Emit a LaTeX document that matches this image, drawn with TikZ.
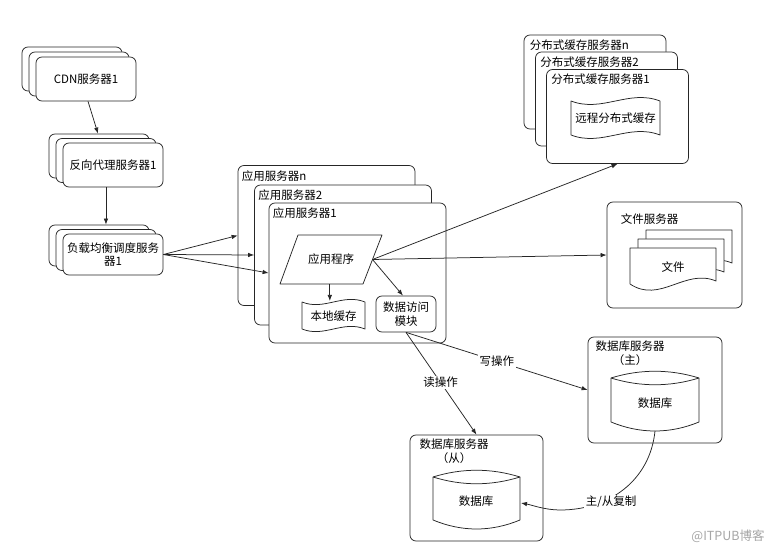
\documentclass[tikz,border=0pt]{standalone}
\usepackage{fontspec}
\newfontfamily\cjk{Noto Sans CJK SC}
\usetikzlibrary{arrows.meta,calc}
\begin{document}
\begin{tikzpicture}[x=1pt,y=-1pt,
  lc/.style={draw=black!85, line width=0.75pt},
  every node/.style={font=\cjk\fontsize{11.5}{13.5}\selectfont},
  srv/.style={lc, fill=white, rounded corners=6pt, inner sep=1pt, align=center},
  smallstk/.style={srv, minimum width=100pt, minimum height=44pt},
  lbstk/.style={srv, minimum width=100pt, minimum height=41pt},
  appstk/.style={srv, minimum width=177pt, minimum height=140pt},
  dcstk/.style={srv, minimum width=142pt, minimum height=94pt},
  bigbox/.style={srv, minimum width=134pt, minimum height=106pt},
  ttl/.style={anchor=north west, inner sep=0pt},
  arr/.style={lc, -{Latex[length=6pt,width=4.5pt]}},
  lbl/.style={fill=white, inner sep=1.5pt},
  shp/.style={lc, fill=white, line join=round},
  txt/.style={inner sep=0pt}
]
\fill[white] (0,0) rectangle (779,553);
\useasboundingbox (0,0) rectangle (779,553);

% CDN stack
\node[smallstk] (cdn3) at (72,69) {};
\node[smallstk] (cdn2) at (79,74) {};
\node[smallstk] (cdn1) at (86,79) {CDN服务器1};

% reverse proxy stack
\node[smallstk] (prx3) at (99,156) {};
\node[smallstk] (prx2) at (106,160.5) {};
\node[smallstk] (prx1) at (113,165) {反向代理服务器1};

% load balancer stack
\node[lbstk] (lb3) at (99,245.5) {};
\node[lbstk] (lb2) at (106,250) {};
\node[lbstk] (lb1) at (113,254.5) {负载均衡调度服务\\器1};

\coordinate (c1) at ($(cdn1.south west)!0.52!(cdn1.south east)$);
\draw[arr] (c1) -- ($(prx3.north west)!0.49!(prx3.north east)$);
\coordinate (p1) at ($(prx1.south west)!0.43!(prx1.south east)$);
\draw[arr] (p1) -- (p1 |- lb3.north);

% application server stack
\node[appstk] (asn) at (326.5,235.5) {};
\node[ttl] (tasn) at ($(asn.north west)+(4,5)$) {应用服务器n};
\node[appstk] (as2) at (343,255) {};
\node[ttl] (tas2) at ($(as2.north west)+(4,5)$) {应用服务器2};
\node[appstk] (as1) at (357.5,273) {};
\node[ttl] (tas1) at ($(as1.north west)+(4,5)$) {应用服务器1};

\draw[arr] (lb1.east) -- (asn.west);
\draw[arr] (lb1.east) -- (as2.west);
\draw[arr] (lb1.east) -- (as1.west);

% application program (parallelogram)
\coordinate (pTL) at (298,235);
\coordinate (pTR) at (382,235);
\coordinate (pBR) at (363,284);
\coordinate (pBL) at (280,284);
\draw[shp] (pTL) -- (pTR) -- (pBR) -- (pBL) -- cycle;
\node[txt] (prog) at (331,259.5) {应用程序};
\coordinate (progR) at ($(pTR)!0.5!(pBR)$);
\coordinate (progB) at ($(pBL)!0.6!(pBR)$);

% local cache (tape)
\draw[shp] (302,302) .. controls (324,311) and (343,293) .. (365,302)
  -- (365,329) .. controls (343,320) and (324,338) .. (302,329) -- cycle;
\node[txt] (lcache) at (333.5,316) {本地缓存};
\draw[arr] (progB) -- (progB |- 0,301);

% data access module
\node[srv, minimum width=60pt, minimum height=36pt, inner sep=0pt] (mod) at (406,314) {数据访问\\模块};
\draw[arr] (progR) -- ($(mod.north west)!0.45!(mod.north east)$);

% distributed cache stack
\node[dcstk] (dcn) at (595,82) {};
\node[ttl] (tdcn) at ($(dcn.north west)+(6,5)$) {分布式缓存服务器n};
\node[dcstk] (dc2) at (606.5,99) {};
\node[ttl] (tdc2) at ($(dc2.north west)+(5,5)$) {分布式缓存服务器2};
\node[dcstk] (dc1) at (617.5,116.5) {};
\node[ttl] (tdc1) at ($(dc1.north west)+(5,5)$) {分布式缓存服务器1};
\draw[shp] (571,101) .. controls (602,113) and (629,89) .. (660,101)
  -- (660,135) .. controls (629,123) and (602,147) .. (571,135) -- cycle;
\node[txt] (rcache) at (615.5,118) {远程分布式缓存};

% file server
\node[srv, minimum width=135pt, minimum height=106pt] (fs) at (674.5,255) {};
\node[ttl] (tfs) at ($(fs.north west)+(14,12)$) {文件服务器};
\begin{scope}[shift={(16,-18)}]
\draw[shp] (630,248) -- (716,248) -- (716,281) .. controls (685,268) and (660,304) .. (630,284) -- cycle;
\end{scope}
\begin{scope}[shift={(8,-9)}]
\draw[shp] (630,248) -- (716,248) -- (716,281) .. controls (685,268) and (660,304) .. (630,284) -- cycle;
\end{scope}
\draw[shp] (630,248) -- (716,248) -- (716,281) .. controls (685,268) and (660,304) .. (630,284) -- cycle;
\node[txt] (file) at (673,267) {文件};

\draw[arr] (progR) -- (dc1.south);
\draw[arr] (progR) -- (fs.west);

% database master
\node[bigbox] (mbox) at (655,390) {};
\node[txt, align=center] (tmb) at (630,353) {数据库服务器\\（主）};
\draw[shp] (611,378) .. controls (640,369) and (670,369) .. (699,378)
  -- (699,422) .. controls (670,434) and (640,434) .. (611,422) -- cycle;
\draw[lc] (611,378) .. controls (640,387) and (670,387) .. (699,378);
\node[txt] (mdb) at (655,403) {数据库};
\coordinate (mdbB) at (655,431);

% database slave
\node[bigbox, minimum width=133pt] (sbox) at (476.5,488) {};
\node[txt, align=center] (tsb) at (454,451) {数据库服务器\\（从）};
\draw[shp] (433,477) .. controls (462,468) and (491,468) .. (520,477)
  -- (520,520) .. controls (491,532) and (462,532) .. (433,520) -- cycle;
\draw[lc] (433,477) .. controls (462,486) and (491,486) .. (520,477);
\node[txt] (sdb) at (476,501) {数据库};
\coordinate (sdbR) at (521,503);

% read / write
\draw[arr] (mod.south) -- node[lbl, pos=0.49] {读操作} (sbox.north);
\draw[arr] (mod.south) -- node[lbl, pos=0.5] {写操作} (mbox.west);

% replication
\draw[arr] (mdbB) .. controls (650,480) and (610,510) .. (560,510)
  .. controls (545,510) and (532,505) .. (sdbR);
\node[lbl] (repl) at (611,502) {主/从复制};

% watermark
\node[txt, text=black!35, font=\cjk\fontsize{12.5}{14}\selectfont] (wm) at (728,536) {@ITPUB博客};
\end{tikzpicture}
\end{document}
